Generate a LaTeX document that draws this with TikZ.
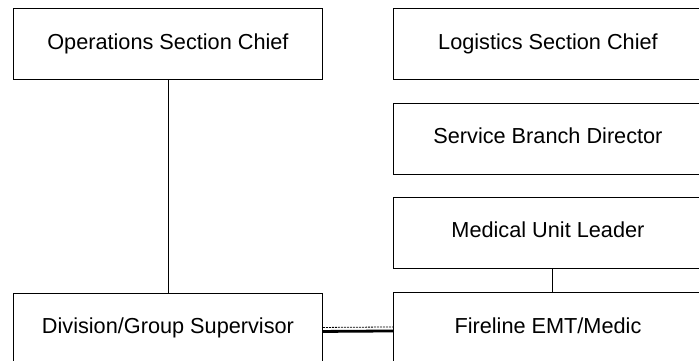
\documentclass[tikz,border=0pt]{standalone}
\usepackage{fontspec}
\setmainfont{Liberation Sans}
\begin{document}
\begin{tikzpicture}[x=1pt,y=-1pt,
	box/.style={draw,line width=0.9pt,minimum width=309pt,minimum height=71pt,inner sep=0pt,
		anchor=north west,text height=15pt,text depth=4pt,font=\fontsize{21.7pt}{26pt}\selectfont}]
	\clip (0,0) rectangle (699,360);
	\node[box] (ops) at (13,8) {Operations Section Chief};
	\node[box] (log) at (393,8) {Logistics Section Chief};
	\node[box] (svc) at (393,102.5) {Service Branch Director};
	\node[box] (med) at (393,196.5) {Medical Unit Leader};
	\node[box] (fire) at (393,292) {Fireline EMT/Medic};
	\node[box] (div) at (13,292.5) {Division/Group Supervisor};
	\draw[line width=0.9pt] (ops.south) -- (div.north);
	\draw[line width=0.9pt] ([xshift=4pt]med.south) -- ([xshift=4pt]fire.north);
	\draw[line width=2.8pt] ([yshift=-3pt]div.east) -- ([yshift=-3pt]fire.west);
	\draw[line width=0.8pt,dash pattern=on 2pt off 1pt] ([yshift=1pt]div.east) -- ([yshift=1pt]fire.west);
\end{tikzpicture}
\end{document}
